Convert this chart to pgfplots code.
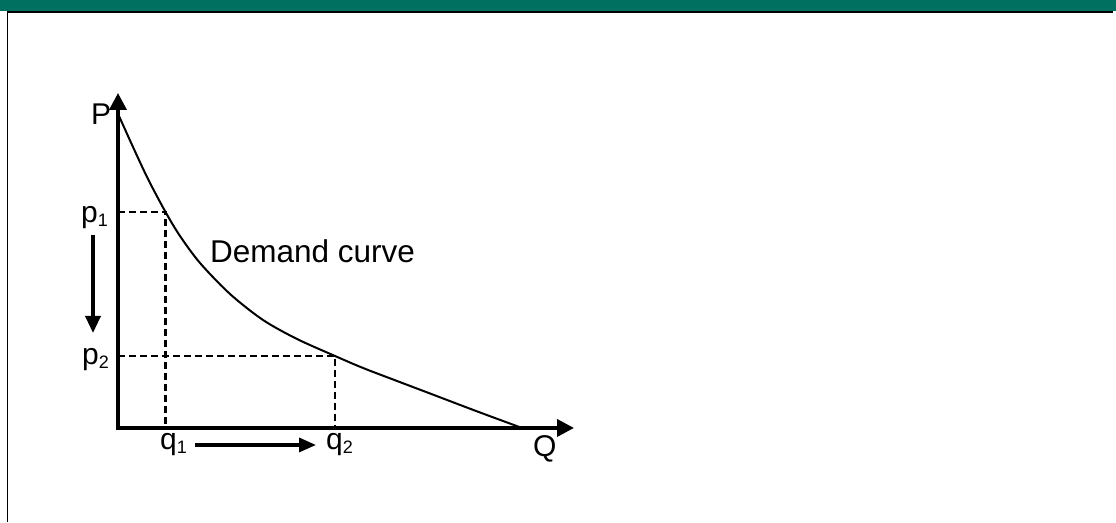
\documentclass[border=0pt]{standalone}
\usepackage{pgfplots}
\pgfplotsset{compat=1.18}
\usetikzlibrary{arrows.meta}
\usepackage{fontspec}
\setmainfont{Liberation Sans}
\definecolor{band}{RGB}{0,112,96}
\newcommand\sub[1]{\raisebox{-4pt}{\fontsize{18}{18}\selectfont #1}}
\begin{document}
\begin{tikzpicture}
\begin{axis}[
  width=1116pt, height=522pt, scale only axis,
  xmin=-118, xmax=998, ymin=-94, ymax=428,
  hide axis, clip=false,
]
% background and frame
\fill[white] (axis cs:-118,-94) rectangle (axis cs:998,428);
\fill[band] (axis cs:-118,416.5) rectangle (axis cs:998,428);
\draw[line width=1.4pt] (axis cs:-111,416) -- (axis cs:995,416);
\draw[line width=1.1pt] (axis cs:-110.7,416) -- (axis cs:-110.7,-94);
% dashed guides
\addplot[black, line width=2.7pt, dash pattern=on 7pt off 4pt] coordinates {(0,216) (47.5,216) (47.5,0)};
\addplot[black, line width=2.7pt, dash pattern=on 7pt off 4pt] coordinates {(0,72) (217,72) (217,0)};
% demand curve
\addplot[black, line width=2pt, smooth, tension=0.5] coordinates {
(1,312) (15,281) (30,249) (47.5,216) (62,192) (82,165) (112,134) (145,108)
(179,89) (217,72) (245,60) (279,47) (312,34.5) (358,17) (404,0)};
% axes
\draw[line width=3.6pt, miter limit=10,
  {Triangle[length=17pt,width=17pt]}-{Triangle[length=17pt,width=17pt]}]
  (axis cs:0,335) -- (axis cs:0,0) -- (axis cs:456,0);
% movement arrows
\draw[line width=3.4pt, -{Triangle[length=17pt,width=15pt]}] (axis cs:-25,193) -- (axis cs:-25,95);
\draw[line width=3.4pt, -{Triangle[length=17pt,width=14pt]}] (axis cs:77,-17) -- (axis cs:198,-17);
% labels
\begin{scope}[every node/.style={inner sep=0pt, font=\fontsize{30}{36}\selectfont}]
\node[anchor=base west] at (axis cs:-27,303) {P};
\node[anchor=base west, font=\fontsize{31.5}{36}\selectfont] at (axis cs:92,165) {Demand curve};
\node[anchor=base east] at (axis cs:-10,205) {p\sub{1}};
\node[anchor=base east] at (axis cs:-9,63) {p\sub{2}};
\node[anchor=base west] at (axis cs:42,-22) {q\sub{1}};
\node[anchor=base west] at (axis cs:208,-22) {q\sub{2}};
\node[anchor=base west] at (axis cs:415,-29) {Q};
\end{scope}
\end{axis}
\end{tikzpicture}
\end{document}
